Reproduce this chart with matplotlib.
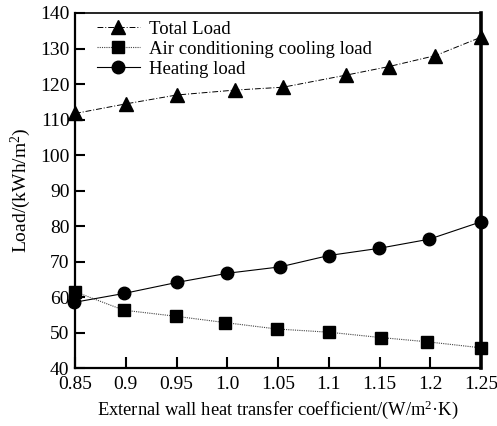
import numpy as np
import matplotlib
matplotlib.use("Agg")
import matplotlib.pyplot as plt

plt.rcParams['font.family'] = ['Liberation Serif', 'DejaVu Serif']
plt.rcParams['mathtext.fontset'] = 'custom'
plt.rcParams['mathtext.rm'] = 'Liberation Serif'
plt.rcParams['mathtext.it'] = 'Liberation Serif:italic'
plt.rcParams['mathtext.bf'] = 'Liberation Serif:bold'

# datos
x_total = [0.85, 0.90, 0.95, 1.008, 1.055, 1.117, 1.159, 1.205, 1.25]
total_load = [111.7, 114.4, 116.9, 118.3, 119.1, 122.5, 124.9, 128.0, 133.2]

x_cool = [0.85, 0.898, 0.949, 0.998, 1.049, 1.10, 1.151, 1.197, 1.25]
cooling_load = [61.5, 56.3, 54.6, 52.8, 51.0, 50.1, 48.6, 47.4, 45.7]

x_heat = [0.849, 0.898, 0.95, 1.0, 1.052, 1.10, 1.149, 1.199, 1.25]
heating_load = [58.5, 61.0, 64.1, 66.7, 68.5, 71.7, 73.7, 76.3, 81.2]

xticks = [0.85, 0.90, 0.95, 1.00, 1.05, 1.10, 1.15, 1.20, 1.25]
xtick_labels = ["0.85", "0.9", "0.95", "1.0", "1.05", "1.1", "1.15", "1.2", "1.25"]
yticks = [40, 50, 60, 70, 80, 90, 100, 110, 120, 130, 140]

fig = plt.figure(figsize=(4.97, 4.26), dpi=100)
ax = fig.add_axes([0.151, 0.136, 0.817, 0.8335])

ax.plot(x_total, total_load, linestyle=(0, (6, 2, 1, 2)), color="black", linewidth=0.7,
        marker='^', markersize=10, label="Total Load", clip_on=False, zorder=3)
ax.plot(x_cool, cooling_load, linestyle=(0, (1, 1)), color="#444444", linewidth=0.8,
        marker='s', markersize=8.5, markerfacecolor="black", markeredgecolor="black",
        label="Air conditioning cooling load", clip_on=False, zorder=3)
ax.plot(x_heat, heating_load, linestyle='-', color="black", linewidth=0.8,
        marker='o', markersize=9, label="Heating load", clip_on=False, zorder=3)

ax.set_xlim(0.85, 1.25)
ax.set_ylim(40, 140)
ax.set_xticks(xticks)
ax.set_xticklabels(xtick_labels)
ax.set_yticks(yticks)

ax.tick_params(axis='x', direction='in', length=8, width=1.5, labelsize=14, pad=6)
ax.tick_params(axis='y', direction='in', length=7, width=1.5, labelsize=14, pad=4)

ax.spines['left'].set_linewidth(1.6)
ax.spines['bottom'].set_linewidth(1.6)
ax.spines['top'].set_linewidth(1.2)
ax.spines['right'].set_linewidth(2.6)

ax.set_xlabel("External wall heat transfer coefficient/(W/m$^{2}$·K)", fontsize=13.3, labelpad=4)
ax.set_ylabel("Load/(kWh/m$^{2}$)", fontsize=14, labelpad=5)

ax.legend(loc='upper left', frameon=False, fontsize=13.5, handlelength=2.3,
          handletextpad=0.5, labelspacing=0.15, borderaxespad=0.1,
          bbox_to_anchor=(0.03, 1.005))

plt.savefig("out.png", dpi=100)
